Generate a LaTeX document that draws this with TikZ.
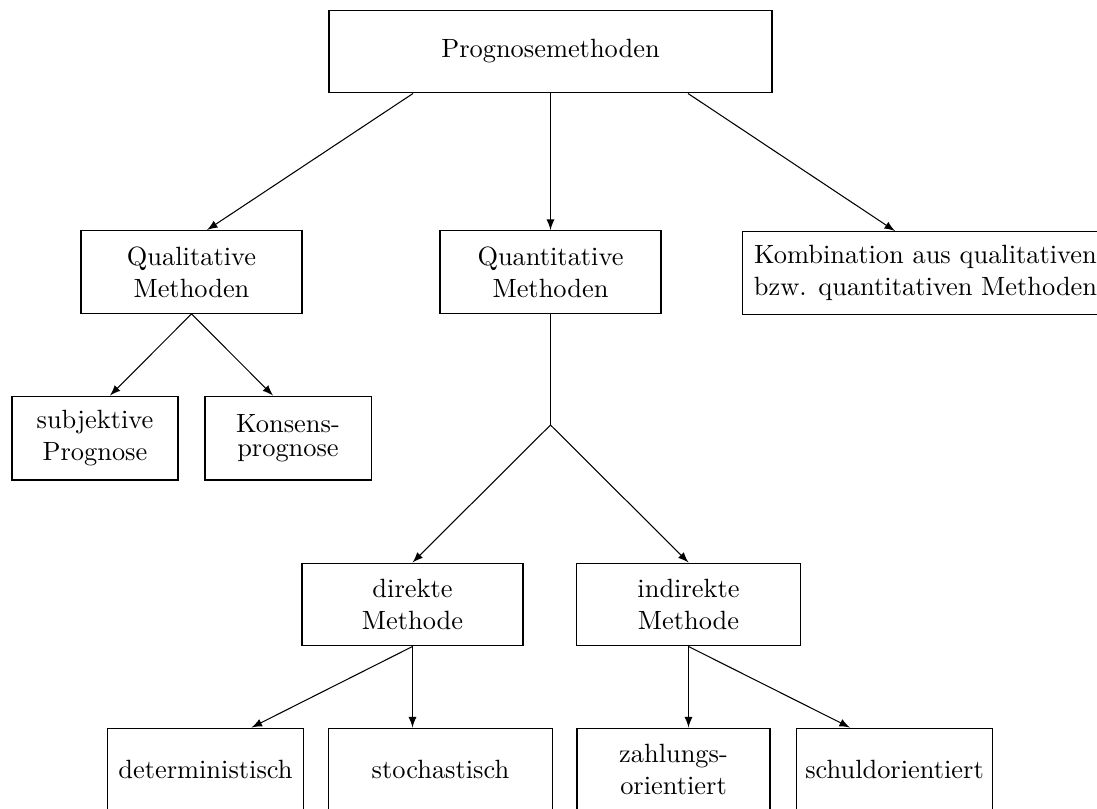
\documentclass[tikz,border=0pt]{standalone}
\usepackage{tikz}
\usetikzlibrary{calc}

\begin{document}
\begin{tikzpicture}[x=0.3788pt, y=-0.3788pt,
		kasten/.style={draw, align=center, inner sep=0pt, minimum height=31.4pt},
		pfeil/.style={-latex}]
				\useasboundingbox (0, 0) rectangle (1097, 808);
				\clip (0, 0) rectangle (1097, 808);
				
				\node[kasten, minimum width=167.8pt] (prog) at (550.5, 51.5) {Prognosemethoden};
				
				\node[kasten, minimum width=83.7pt] (qual) at (191.5, 272) {Qualitative\\Methoden};
				\node[kasten, minimum width=83.7pt] (quant) at (550.5, 272) {Quantitative\\Methoden};
				\node[kasten, minimum width=138.3pt] (komb) at (925.5, 273) {Kombination aus qualitativen\\bzw. quantitativen Methoden};
				
				\node[kasten, minimum width=62.9pt, minimum height=31.8pt] (subj) at (95, 438) {subjektive\\Prognose};
				\node[kasten, minimum width=62.9pt, minimum height=31.8pt] (kons) at (288, 438) {Konsens-\\[-3pt]prognose};
				
				\coordinate (gabel) at (550.5, 425);
				
				\node[kasten, minimum width=83.7pt] (dir) at (412.5, 604.5) {direkte\\Methode};
				\node[kasten, minimum width=84.5pt] (indir) at (688.5, 604.5) {indirekte\\Methode};
				
				\node[kasten, minimum width=73.9pt] (det) at (205.5, 769.5) {deterministisch};
				\node[kasten, minimum width=84.5pt] (stoch) at (440.5, 769.5) {stochastisch};
				\node[kasten, minimum width=73.1pt] (zahl) at (673.5, 769.5) {zahlungs-\\orientiert};
				\node[kasten, minimum width=73.9pt] (schuld) at (894.5, 769.5) {schuldorientiert};
				
				\draw[pfeil] ($(prog.south)+(-137.5, 0)$) -- ($(qual.north)+(15.5, 0)$);
				\draw[pfeil] (prog.south) -- (quant.north);
				\draw[pfeil] ($(prog.south)+(137.5, 0)$) -- ($(komb.north)+(-30.5, 0)$);
				
				\draw[pfeil] (qual.south) -- ($(subj.north)+(15, 0)$);
				\draw[pfeil] (qual.south) -- ($(kons.north)+(-15, 0)$);
				
				\draw (quant.south) -- (gabel);
				\draw[pfeil] (gabel) -- (dir.north);
				\draw[pfeil] (gabel) -- (indir.north);
				
				\draw[pfeil] (dir.south) -- ($(det.north)+(46, 0)$);
				\draw[pfeil] (dir.south) -- ($(stoch.north)+(-28, 0)$);
				\draw[pfeil] (indir.south) -- ($(zahl.north)+(15, 0)$);
				\draw[pfeil] (indir.south) -- ($(schuld.north)+(-44.5, 0)$);
			\end{tikzpicture}
\end{document}
